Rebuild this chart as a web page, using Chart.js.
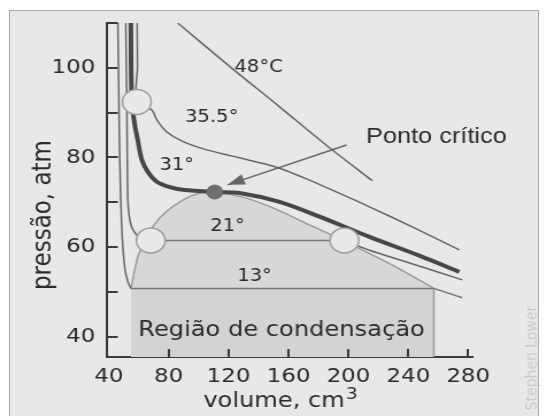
<!DOCTYPE html>
<html>
<head>
<meta charset="utf-8">
<script src="https://cdn.jsdelivr.net/npm/chart.js@4.4.0/dist/chart.umd.min.js"></script>
<style>
body { margin:0; background:#fff; width:547px; height:416px; overflow:hidden; position:relative; }
#frame { position:absolute; left:9px; top:10px; width:528px; height:420px; border:1px solid #a9a9a9; background:#e8e8e8; }
/* o original esta esticado na horizontal */
#wrap { position:absolute; left:0; top:0; width:476px; height:416px; transform:scaleX(1.1492); transform-origin:0 0; }
</style>
</head>
<body>
<div id="frame"></div>
<div id="wrap"><canvas id="myChart"></canvas></div>
<script>
// volume (cm3), pressao (atm)
let xTicks = [40, 80, 120, 160, 200, 240, 280];
let yTicks = [40, 60, 80, 100];
let yMinor = [50, 70, 90, 110];

let iso48 = [[86,110],[120,100.5],[154,91.3],[185,82.8],[216,74.8]];
let iso35 = [[58.9,110],[59.1,100],[58.7,92.4],[68.7,90.6],[72,88.4],[78.7,85.7],[89.3,83.6],[105.3,81.7],[122.7,80.3],[140,78.9],[154,77.6],[170,75.5],[190,72.6],[214,69],[244,64.3],[274,59.4]];
let iso31 = [[54.7,110],[55.3,92.8],[57.3,87.3],[59.3,83.9],[62,79.5],[66,76.8],[72,74.6],[80.7,73.4],[89.3,72.8],[110.7,72.3],[127.3,72.1],[154,70.1],[180.7,66.8],[214,62.3],[247.3,58.1],[274,54.5]];
let iso21Liq = [[51.3,110],[52,92.8],[52.7,70.5],[54,66.1],[56,63.9],[60.7,62.1],[66,61.5]];
let iso21Plat = [[62,61.5],[197.3,61.5]];
let iso21Gas = [[197.3,61.5],[214,59.3],[234,57.2],[276,52.7]];
let iso13Liq = [[46,110],[46.7,92.8],[47.3,79.4],[48.7,63.9],[50.7,55.2],[52.7,52.3],[54.7,50.8]];
let iso13Plat = [[54.7,50.8],[257,50.8]];
let iso13Gas = [[257,50.8],[276,48.7]];
let dome = [[54.7,50.8],[59.3,57.8],[63.3,61],[68.7,64.3],[77.3,67.6],[89.3,70.5],[100.7,72.1],[110.7,72.3],[130,71.1],[150,68.7],[170,65.6],[197.3,61.3],[230,55.9],[257,50.8]];
let rectEdge = [[257,50.8],[257,35.5]];
let circles = [[58.7,92.4],[68,61.5],[197.3,61.5]];
let critical = [[110.7,72.3]];
let arrow = [[198.7,82.8],[119.3,73.9]];

function pts(a){ return a.map(p => ({x: p[0], y: p[1]})); }

function line(data, color, width, extra){
    return Object.assign({data: pts(data), borderColor: color, borderWidth: width, tension: 0.3,
        pointRadius: 0, fill: false, order: 5}, extra || {});
}

let extras = {
    id: 'extras',
    afterDatasetsDraw(chart){
        let ctx = chart.ctx, x = chart.scales.x, y = chart.scales.y, a = chart.chartArea;
        ctx.save();
        // marcas dos eixos para dentro
        ctx.strokeStyle = '#3a3a3a';
        ctx.lineWidth = 2;
        yTicks.concat(yMinor).forEach(v => {
            let py = Math.round(y.getPixelForValue(v));
            ctx.beginPath(); ctx.moveTo(a.left, py); ctx.lineTo(a.left + 9.5, py); ctx.stroke();
        });
        xTicks.slice(1).forEach(v => {
            let px = Math.round(x.getPixelForValue(v));
            ctx.beginPath(); ctx.moveTo(px, a.bottom); ctx.lineTo(px, a.bottom - 8); ctx.stroke();
        });
        // ponta da seta
        let x0 = x.getPixelForValue(arrow[0][0]), y0 = y.getPixelForValue(arrow[0][1]);
        let x1 = x.getPixelForValue(arrow[1][0]), y1 = y.getPixelForValue(arrow[1][1]);
        let ang = Math.atan2(y1 - y0, x1 - x0);
        ctx.fillStyle = '#666';
        ctx.beginPath();
        ctx.moveTo(x1, y1);
        ctx.lineTo(x1 - 15*Math.cos(ang) + 5.5*Math.sin(ang), y1 - 15*Math.sin(ang) - 5.5*Math.cos(ang));
        ctx.lineTo(x1 - 15*Math.cos(ang) - 5.5*Math.sin(ang), y1 - 15*Math.sin(ang) + 5.5*Math.cos(ang));
        ctx.closePath(); ctx.fill();

        // textos
        ctx.textAlign = 'center';
        ctx.textBaseline = 'middle';
        ctx.fillStyle = '#2b2b2b';
        let txt = (s, v, p, font) => { ctx.font = font; ctx.fillText(s, x.getPixelForValue(v), y.getPixelForValue(p)); };
        txt('48°C', 140, 100, '17px "DejaVu Sans"');
        txt('35.5°', 108.7, 88.8, '17px "DejaVu Sans"');
        txt('31°', 85.3, 78.1, '17px "DejaVu Sans"');
        txt('21°', 119.3, 64.7, '17px "DejaVu Sans"');
        txt('13°', 137.3, 53.4, '17px "DejaVu Sans"');
        txt('Região de condensação', 155.3, 41.3, '21px "DejaVu Sans"');
        txt('Ponto crítico', 258.7, 84.6, '22px "Liberation Sans"');

        // titulos dos eixos
        ctx.font = '21px "DejaVu Sans"';
        ctx.textAlign = 'left';
        ctx.textBaseline = 'alphabetic';
        let w = ctx.measureText('volume, cm').width;
        let sx = 243 - (w + 9) / 2;
        ctx.fillText('volume, cm', sx, 407);
        ctx.font = '16px "DejaVu Sans"';
        ctx.fillText('3', sx + w + 1, 399);

        ctx.font = '23px "DejaVu Sans"';
        ctx.textAlign = 'center';
        ctx.textBaseline = 'middle';
        ctx.translate(38, 215);
        ctx.rotate(-Math.PI / 2);
        ctx.fillText('pressão, atm', 0, 0);
        ctx.restore();

        ctx.save();
        ctx.font = '14px "DejaVu Sans"';
        ctx.fillStyle = '#c9c9c9';
        ctx.textAlign = 'center';
        ctx.textBaseline = 'middle';
        ctx.translate(463, 358);
        ctx.rotate(-Math.PI / 2);
        ctx.fillText('Stephen Lower', 0, 0);
        ctx.restore();
    }
};

let myChart = document.getElementById('myChart').getContext('2d');

let massChart = new Chart(myChart, {
    type: 'line',
    data: {
        datasets: [
            line(dome, '#9a9a9a', 1.5, {fill: 'start', backgroundColor: '#d8d8d8', order: 10}),
            line(iso13Plat, '#777', 1.5, {fill: 'start', backgroundColor: '#d3d3d3', tension: 0, order: 9}),
            line(rectEdge, '#999', 1.5, {tension: 0, order: 8}),
            line(iso48, '#666', 1.5),
            line(iso35, '#666', 1.5),
            line(iso21Liq, '#666', 1.5),
            line(iso21Plat, '#777', 1.5, {tension: 0}),
            line(iso21Gas, '#666', 1.5),
            line(iso13Liq, '#666', 1.5),
            line(iso13Gas, '#777', 1.5, {tension: 0}),
            line(iso31, '#474747', 4, {order: 4}),
            line(arrow, '#666', 1.5, {tension: 0, order: 3}),
            {data: pts(circles), showLine: false, pointRadius: 12.5, pointBackgroundColor: '#e9e9e9',
                pointBorderColor: '#9d9d9d', pointBorderWidth: 1.5, order: 2},
            {data: pts(critical), showLine: false, pointRadius: 7, pointBackgroundColor: '#6f6f6f',
                pointBorderColor: '#6f6f6f', pointBorderWidth: 1, order: 1}
        ]
    },
    options: {
        responsive: true,
        maintainAspectRatio: false,
        animation: false,
        events: [],
        layout: {padding: {top: 23, right: 65, left: 0, bottom: 0}},
        plugins: {legend: {display: false}, tooltip: {enabled: false}},
        scales: {
            x: {
                type: 'linear', min: 38.7, max: 282.7,
                afterBuildTicks: s => { s.ticks = xTicks.map(v => ({value: v})); },
                afterFit: s => { s.height = 59; },
                grid: {display: false, drawTicks: false},
                border: {display: true, color: '#3a3a3a', width: 2},
                ticks: {font: {family: 'DejaVu Sans', size: 20}, color: '#2b2b2b', padding: 8, maxRotation: 0, autoSkip: false}
            },
            y: {
                type: 'linear', min: 35.5, max: 110,
                afterBuildTicks: s => { s.ticks = yTicks.map(v => ({value: v})); },
                afterFit: s => { s.width = 93; },
                grid: {display: false, drawTicks: false},
                border: {display: true, color: '#3a3a3a', width: 2},
                ticks: {font: {family: 'DejaVu Sans', size: 20}, color: '#2b2b2b', padding: 10, autoSkip: false}
            }
        }
    },
    plugins: [extras]
});
</script>
</body>
</html>
